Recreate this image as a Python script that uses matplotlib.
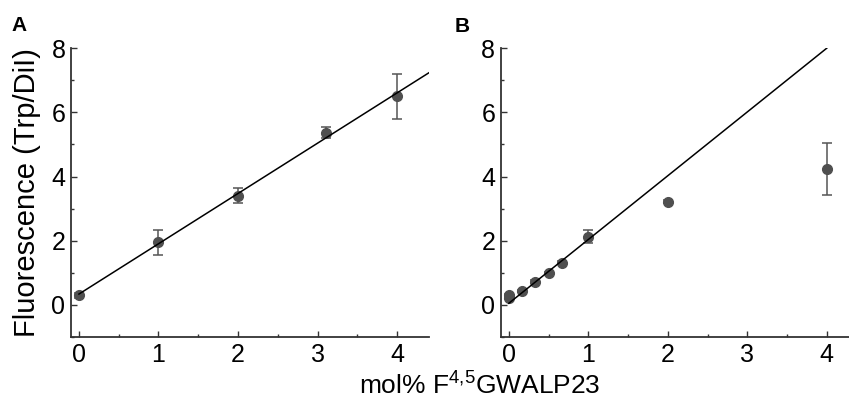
import matplotlib.pyplot as plt
import numpy as np

plt.rcParams["font.family"] = ["Liberation Sans", "DejaVu Sans"]
plt.rcParams["mathtext.fontset"] = "custom"
plt.rcParams["mathtext.rm"] = "Liberation Sans"

# panel A: standard curve
a_x = [0, 1, 2, 3.1, 4]
a_y = [0.3, 1.95, 3.4, 5.37, 6.5]
a_err = [0.08, 0.38, 0.24, 0.18, 0.7]
a_fit_x = [0, 4.4]

# panel B: titration
b_x = [0, 0, 0.167, 0.333, 0.5, 0.667, 1, 2, 4]
b_y = [0.2, 0.3, 0.42, 0.72, 1.0, 1.32, 2.12, 3.22, 4.22]
b_err = [0.03, 0.03, 0.03, 0.04, 0.04, 0.05, 0.2, 0.05, 0.81]
b_fit_x = [0, 4]
b_fit_y = [0.05, 8.0]

pt_color = "#4f4f4f"

fig = plt.figure(figsize=(8.49, 4.05), dpi=100)
ax_a = fig.add_axes([0.0836, 0.168, 0.4217, 0.713])
ax_b = fig.add_axes([0.590, 0.168, 0.410, 0.713])


def style(ax, xmax):
    ax.set_xlim(-0.1, xmax)
    ax.set_ylim(-1, 8)
    for s in ("top", "right"):
        ax.spines[s].set_visible(False)
    for s in ("left", "bottom"):
        ax.spines[s].set_linewidth(1.3)
        ax.spines[s].set_color("#333333")
    ax.set_xticks([0, 1, 2, 3, 4])
    ax.set_xticks(np.arange(0.5, 4.5, 1), minor=True)
    ax.set_yticks([0, 2, 4, 6, 8])
    ax.set_yticks([-1, 1, 3, 5, 7], minor=True)
    ax.tick_params(which="both", direction="in", labelsize=18, color="#333333")
    ax.tick_params(which="major", length=4, width=1)
    ax.tick_params(which="minor", length=2.5, width=1)
    ax.tick_params(axis="x", pad=4)
    ax.tick_params(axis="y", pad=4)


# A
slope, icpt = np.polyfit(a_x, a_y, 1)
ax_a.plot(a_fit_x, [icpt + slope * x for x in a_fit_x], color="black", lw=1.1, zorder=3)
ax_a.errorbar(a_x, a_y, yerr=a_err, fmt="o", color=pt_color, ms=7,
              ecolor="#555555", elinewidth=1.1, capsize=3.5, capthick=1.1, zorder=2)
style(ax_a, 4.4)
ax_a.set_ylabel("Fluorescence (Trp/DiI)", fontsize=21)
ax_a.yaxis.set_label_coords(-0.085, 0.5)

# B
ax_b.plot(b_fit_x, b_fit_y, color="black", lw=1.1, zorder=3)
ax_b.errorbar(b_x, b_y, yerr=b_err, fmt="o", color=pt_color, ms=7,
              ecolor="#555555", elinewidth=1.1, capsize=3.5, capthick=1.1, zorder=2)
style(ax_b, 4.28)

fig.text(0.013, 0.924, "A", fontsize=15, fontweight="bold")
fig.text(0.535, 0.921, "B", fontsize=15, fontweight="bold")
fig.text(0.565, 0.027, r"mol% F$^{4{,}5}$GWALP23", fontsize=19, ha="center")

fig.savefig("out.png", dpi=100)
plt.close(fig)
